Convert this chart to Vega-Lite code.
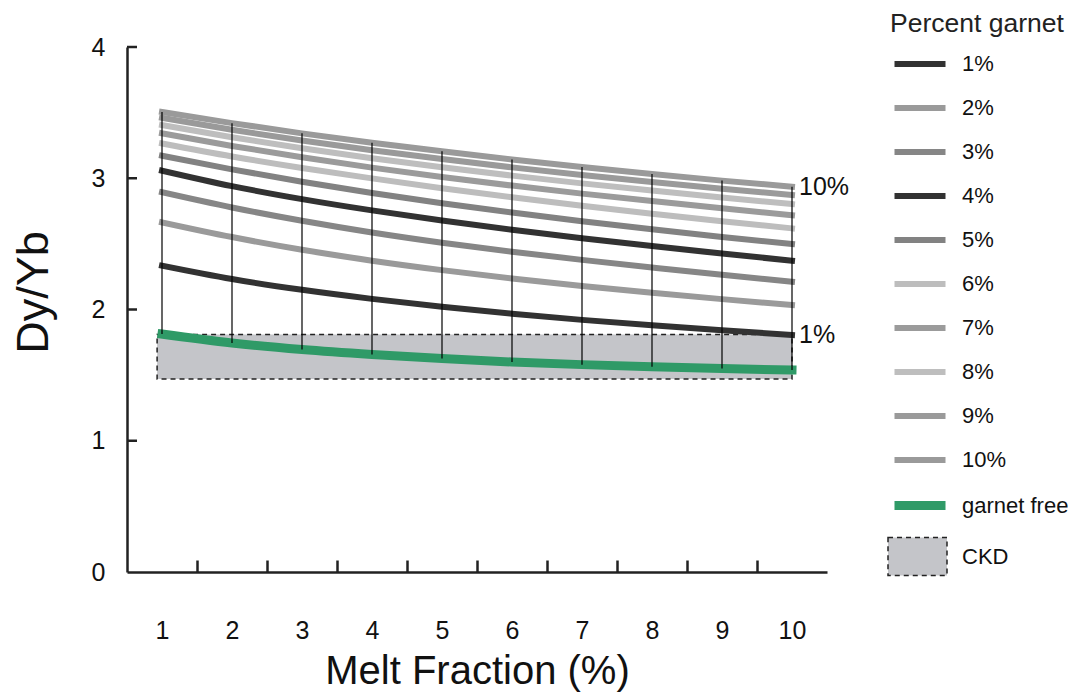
{
  "$schema": "https://vega.github.io/schema/vega-lite/v6.json",
  "width": 700,
  "height": 525,
  "autosize": "none",
  "padding": {"left": 127, "top": 47, "right": 246, "bottom": 122},
  "background": "white",
  "config": {
    "view": {"stroke": null},
    "font": "Liberation Sans",
    "axis": {"grid": false, "domainColor": "#222", "tickColor": "#222", "labelColor": "#111", "titleColor": "#111", "domainWidth": 2.5, "tickWidth": 2.5, "labelFontSize": 25, "titleFontWeight": "normal", "labelFont": "Liberation Sans", "titleFont": "Liberation Sans"}
  },
  "resolve": {"axis": {"x": "independent", "y": "independent"}},
  "datasets": {
    "wide": [
      {"x": 1, "1%": 2.334, "2%": 2.664, "3%": 2.893, "4%": 3.058, "5%": 3.172, "6%": 3.265, "7%": 3.342, "8%": 3.405, "9%": 3.460, "10%": 3.505, "garnet free": 1.813},
      {"x": 2, "1%": 2.232, "2%": 2.552, "3%": 2.777, "4%": 2.940, "5%": 3.068, "6%": 3.166, "7%": 3.246, "8%": 3.312, "9%": 3.369, "10%": 3.420, "garnet free": 1.745},
      {"x": 3, "1%": 2.150, "2%": 2.455, "3%": 2.676, "4%": 2.841, "5%": 2.973, "6%": 3.078, "7%": 3.160, "8%": 3.229, "9%": 3.288, "10%": 3.342, "garnet free": 1.695},
      {"x": 4, "1%": 2.081, "2%": 2.372, "3%": 2.587, "4%": 2.755, "5%": 2.887, "6%": 2.999, "7%": 3.081, "8%": 3.153, "9%": 3.214, "10%": 3.271, "garnet free": 1.657},
      {"x": 5, "1%": 2.021, "2%": 2.300, "3%": 2.509, "4%": 2.678, "5%": 2.809, "6%": 2.924, "7%": 3.009, "8%": 3.084, "9%": 3.146, "10%": 3.205, "garnet free": 1.626},
      {"x": 6, "1%": 1.968, "2%": 2.236, "3%": 2.440, "4%": 2.607, "5%": 2.739, "6%": 2.855, "7%": 2.944, "8%": 3.020, "9%": 3.083, "10%": 3.143, "garnet free": 1.600},
      {"x": 7, "1%": 1.921, "2%": 2.179, "3%": 2.378, "4%": 2.543, "5%": 2.673, "6%": 2.790, "7%": 2.883, "8%": 2.961, "9%": 3.025, "10%": 3.086, "garnet free": 1.580},
      {"x": 8, "1%": 1.880, "2%": 2.127, "3%": 2.320, "4%": 2.483, "5%": 2.611, "6%": 2.729, "7%": 2.826, "8%": 2.906, "9%": 2.971, "10%": 3.032, "garnet free": 1.563},
      {"x": 9, "1%": 1.842, "2%": 2.079, "3%": 2.264, "4%": 2.426, "5%": 2.553, "6%": 2.672, "7%": 2.771, "8%": 2.853, "9%": 2.920, "10%": 2.982, "garnet free": 1.550},
      {"x": 10, "1%": 1.806, "2%": 2.034, "3%": 2.212, "4%": 2.372, "5%": 2.499, "6%": 2.618, "7%": 2.718, "8%": 2.803, "9%": 2.872, "10%": 2.936, "garnet free": 1.539}
    ],
    "ckd": [
      {"x1": 0.93, "x2": 10, "y1": 1.47, "y2": 1.81, "k": "CKD"}
    ],
    "yticks": [
      {"v": 1}, {"v": 2}, {"v": 3}, {"v": 4}
    ]
  },
  "layer": [
    {
      "data": {"name": "ckd"},
      "mark": {"type": "rect", "stroke": "#222", "strokeWidth": 1.5, "strokeDash": [5, 4]},
      "encoding": {
        "x": {"field": "x1", "type": "quantitative", "scale": {"domain": [0.5, 10.5], "nice": false, "zero": false},
          "axis": {
            "values": [1, 2, 3, 4, 5, 6, 7, 8, 9, 10], "format": "d",
            "ticks": false, "labelPadding": 46, "labelOverlap": false, "labelFlush": false, "labelBound": false,
            "title": "Melt Fraction (%)", "titleFontSize": 40, "titlePadding": 8
          }},
        "x2": {"field": "x2"},
        "y": {"field": "y1", "type": "quantitative", "scale": {"domain": [0, 4], "nice": false, "zero": false},
          "axis": {"values": [0, 1, 2, 3, 4], "format": "d", "ticks": false, "labelPadding": 22, "title": "Dy/Yb", "titleFontSize": 45, "titlePadding": 35, "titleY": 245}},
        "y2": {"field": "y2"},
        "fill": {"field": "k", "type": "nominal", "title": null,
          "scale": {"range": ["#c4c5c9"]},
          "legend": {"orient": "none", "legendX": 760, "legendY": 479, "symbolType": "M-1,-0.64L1,-0.64L1,0.64L-1,0.64Z", "symbolSize": 3481, "symbolStrokeColor": "#222", "symbolStrokeWidth": 1.5, "symbolDash": [5, 4], "labelFontSize": 22, "labelColor": "#111", "labelOffset": 14}}
      }
    },
    {
      "data": {"name": "wide"},
      "transform": [{"fold": ["1%", "2%", "3%", "4%", "5%", "6%", "7%", "8%", "9%", "10%", "garnet free"], "as": ["s", "y"]}],
      "mark": {"type": "line", "interpolate": "monotone", "strokeCap": "square"},
      "encoding": {
        "x": {"field": "x", "type": "quantitative",
          "axis": {"orient": "top", "offset": -525, "values": [1.5, 2.5, 3.5, 4.5, 5.5, 6.5, 7.5, 8.5, 9.5], "labels": false, "domain": false, "tickSize": 12, "title": null}},
        "y": {"field": "y", "type": "quantitative", "axis": null},
        "color": {"field": "s", "type": "nominal", "title": "Percent garnet",
          "scale": {"domain": ["1%", "2%", "3%", "4%", "5%", "6%", "7%", "8%", "9%", "10%", "garnet free"],
                    "range": ["#323232", "#9a9a9a", "#868686", "#323232", "#828282", "#bdbdbd", "#9b9b9b", "#bebebe", "#9a9a9a", "#9a9a9a", "#2f9a67"]},
          "legend": {"orient": "none", "legendX": 763, "legendY": -36, "symbolType": "stroke", "symbolSize": 2601, "titleFontSize": 26.5, "titleFontWeight": "normal", "titleColor": "#222", "labelFontSize": 22, "labelColor": "#111", "labelOffset": 12, "rowPadding": 3, "titlePadding": -2}},
        "strokeWidth": {"field": "s", "type": "nominal", "title": "Percent garnet",
          "scale": {"type": "ordinal", "domain": ["1%", "2%", "3%", "4%", "5%", "6%", "7%", "8%", "9%", "10%", "garnet free"],
                    "range": [6, 6, 6, 6, 6, 6, 6, 6, 6, 6, 9]}},
        "order": {"field": "x", "type": "quantitative"}
      }
    },
    {
      "data": {"name": "wide"},
      "mark": {"type": "rule", "color": "#000", "strokeWidth": 1.2},
      "encoding": {
        "x": {"field": "x", "type": "quantitative", "axis": null},
        "y": {"field": "10%", "type": "quantitative", "axis": null},
        "y2": {"field": "garnet free"}
      }
    },
    {
      "data": {"name": "yticks"},
      "mark": {"type": "rule", "color": "#222", "strokeWidth": 2.5},
      "encoding": {
        "x": {"datum": 0.5, "type": "quantitative", "axis": null},
        "x2": {"datum": 0.643},
        "y": {"field": "v", "type": "quantitative", "axis": null}
      }
    },
    {
      "data": {"name": "wide"},
      "transform": [{"fold": ["1%", "10%"], "as": ["s", "y"]}, {"filter": "datum.x === 10"}],
      "mark": {"type": "text", "align": "left", "baseline": "middle", "dx": 7, "fontSize": 25, "color": "#111", "font": "Liberation Sans"},
      "encoding": {
        "x": {"field": "x", "type": "quantitative", "axis": null},
        "y": {"field": "y", "type": "quantitative", "axis": null},
        "text": {"field": "s"}
      }
    }
  ]
}
